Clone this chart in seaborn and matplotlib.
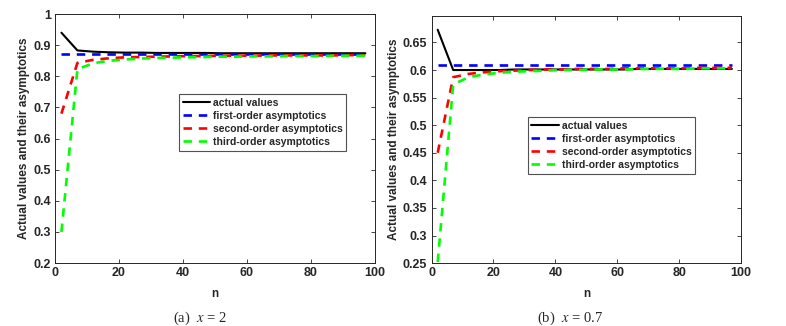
import numpy as np
import pandas as pd
import seaborn as sns
import matplotlib
matplotlib.use("Agg")
import matplotlib.pyplot as plt

# ---- data ----
n_vals = [2, 7, 12, 17, 22, 27, 32, 37, 42, 47, 52, 57, 62, 67, 72, 77, 82, 87, 92, 97]

a_actual = [0.940, 0.883, 0.879, 0.877, 0.876, 0.876, 0.875, 0.875, 0.875, 0.875,
            0.874, 0.874, 0.874, 0.874, 0.874, 0.874, 0.874, 0.874, 0.874, 0.874]
a_first = [0.873] * 20
a_second = [0.680, 0.843, 0.853, 0.858, 0.861, 0.862, 0.863, 0.864, 0.865, 0.865,
            0.866, 0.866, 0.866, 0.867, 0.867, 0.867, 0.867, 0.867, 0.868, 0.868]
a_third = [0.300, 0.823, 0.842, 0.850, 0.854, 0.857, 0.859, 0.860, 0.861, 0.862,
           0.863, 0.863, 0.864, 0.864, 0.865, 0.865, 0.865, 0.866, 0.866, 0.866]

b_actual = [0.673, 0.600, 0.600, 0.600, 0.600, 0.601, 0.601, 0.601, 0.601, 0.601,
            0.601, 0.601, 0.601, 0.602, 0.602, 0.602, 0.602, 0.602, 0.602, 0.602]
b_first = [0.609] * 20
b_second = [0.450, 0.587, 0.593, 0.596, 0.598, 0.599, 0.600, 0.601, 0.601, 0.602,
            0.602, 0.602, 0.603, 0.603, 0.603, 0.603, 0.603, 0.604, 0.604, 0.604]
b_third = [0.252, 0.574, 0.587, 0.592, 0.595, 0.597, 0.598, 0.599, 0.600, 0.600,
           0.601, 0.601, 0.601, 0.602, 0.602, 0.602, 0.602, 0.603, 0.603, 0.603]

series_names = ["actual values", "first-order asymptotics",
                "second-order asymptotics", "third-order asymptotics"]
colors = ["#000000", "#0000ff", "#ff0000", "#00ff00"]
captions = ["(a)", "(b)"]
cap_x = ["2", "0.7"]
ylabel = "Actual values and their asymptotics"

sns.set_theme(style="white")
plt.rcParams["font.family"] = ["Liberation Sans", "DejaVu Sans"]
plt.rcParams["mathtext.fontset"] = "stix"

fig = plt.figure(figsize=(7.86, 3.26), dpi=100)
ax1 = fig.add_axes([0.070, 0.193, 0.407, 0.764])
ax2 = fig.add_axes([0.549, 0.193, 0.394, 0.758])


def draw(ax, vals, ylim, yticks, yticklabels, leg_anchor):
    for name, v, c in zip(series_names, vals, colors):
        df = pd.DataFrame({"n": n_vals, "v": v})
        if name == "actual values":
            sns.lineplot(data=df, x="n", y="v", ax=ax, color=c, lw=1.5,
                         label=name)
        else:
            sns.lineplot(data=df, x="n", y="v", ax=ax, color=c, lw=1.9,
                         label=name, linestyle=(0, (3.2, 2.6)))
    ax.set_xlim(0, 100)
    ax.set_ylim(*ylim)
    ax.set_xticks([0, 20, 40, 60, 80, 100])
    ax.set_xticklabels(["0", "20", "40", "60", "80", "100"])
    ax.set_yticks(yticks)
    ax.set_yticklabels(yticklabels)
    ax.tick_params(axis="both", direction="in", length=3, width=0.6,
                   top=True, right=True, labelsize=9, colors="#262626",
                   pad=3, bottom=True, left=True)
    for lab in ax.get_xticklabels() + ax.get_yticklabels():
        lab.set_fontweight("bold")
    for sp in ax.spines.values():
        sp.set_color("#262626")
        sp.set_linewidth(0.7)
    ax.set_xlabel("n", fontsize=8.5, fontweight="bold", labelpad=6, color="#262626")
    ax.set_ylabel(ylabel, fontsize=8.5, fontweight="bold", labelpad=2, color="#262626")
    leg = ax.legend(loc="upper left", bbox_to_anchor=leg_anchor, fontsize=7.5,
                    frameon=True, fancybox=False, handlelength=2.6,
                    handletextpad=0.3, borderpad=0.35, labelspacing=0.3,
                    borderaxespad=0)
    leg.get_frame().set_edgecolor("#262626")
    leg.get_frame().set_linewidth(0.8)
    for t in leg.get_texts():
        t.set_fontweight("bold")


draw(ax1, [a_actual, a_first, a_second, a_third], (0.2, 1.0),
     [0.2, 0.3, 0.4, 0.5, 0.6, 0.7, 0.8, 0.9, 1.0],
     ["0.2", "0.3", "0.4", "0.5", "0.6", "0.7", "0.8", "0.9", "1"],
     (0.3875, 0.679))
draw(ax2, [b_actual, b_first, b_second, b_third], (0.25, 0.698),
     [0.25, 0.3, 0.35, 0.4, 0.45, 0.5, 0.55, 0.6, 0.65],
     ["0.25", "0.3", "0.35", "0.4", "0.45", "0.5", "0.55", "0.6", "0.65"],
     (0.311, 0.591))

for cx, cap, xv in [(0.255, captions[0], cap_x[0]), (0.725, captions[1], cap_x[1])]:
    fig.text(cx, 1 - 318 / 326, f"{cap}  $x$ = {xv}", ha="center", va="center",
             fontsize=10.5, family=["Liberation Serif", "DejaVu Serif"],
             fontweight="normal")

fig.savefig("out.png", dpi=100)
